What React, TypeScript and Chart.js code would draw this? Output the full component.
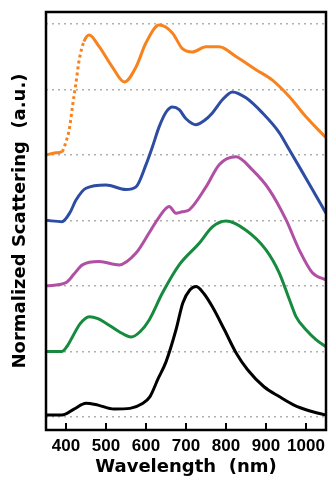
import React, { useEffect, useRef } from "react";
import { Chart, registerables } from "chart.js";

Chart.register(...registerables);

// Wavelength (nm) and stacked normalized scattering values (each curve offset by its baseline)
const blackX = [350, 390, 420, 450, 480, 520, 560, 590, 610, 630, 650, 675, 692, 710, 725, 745, 766, 796, 825, 854, 895, 933, 970, 1010, 1050];
const blackY = [0.03, 0.03, 0.12, 0.21, 0.18, 0.12, 0.13, 0.2, 0.31, 0.58, 0.84, 1.33, 1.74, 1.94, 1.99, 1.88, 1.68, 1.33, 0.98, 0.72, 0.46, 0.31, 0.18, 0.09, 0.03];

const greenX = [350, 390, 405, 416, 435, 458, 480, 500, 533, 563, 585, 608, 641, 683, 733, 766, 800, 850, 900, 933, 958, 975, 1000, 1025, 1050];
const greenY = [1.0, 1.0, 1.1, 1.22, 1.42, 1.53, 1.5, 1.43, 1.3, 1.22, 1.3, 1.48, 1.89, 2.32, 2.65, 2.9, 2.99, 2.85, 2.55, 2.2, 1.8, 1.53, 1.33, 1.18, 1.07];

const magentaX = [350, 400, 420, 441, 483, 533, 575, 608, 633, 658, 675, 690, 708, 750, 783, 825, 866, 908, 950, 983, 1016, 1050];
const magentaY = [2.0, 2.05, 2.18, 2.32, 2.37, 2.32, 2.5, 2.81, 3.05, 3.21, 3.11, 3.13, 3.16, 3.51, 3.85, 3.97, 3.77, 3.47, 3.01, 2.55, 2.2, 2.09];

const blueX = [350, 390, 410, 425, 450, 500, 550, 575, 600, 616, 633, 650, 666, 683, 700, 725, 745, 766, 791, 816, 850, 891, 933, 958, 983, 1016, 1050];
const blueY = [3.0, 2.98, 3.12, 3.31, 3.49, 3.54, 3.47, 3.51, 3.85, 4.12, 4.43, 4.65, 4.73, 4.69, 4.55, 4.46, 4.52, 4.64, 4.84, 4.96, 4.87, 4.64, 4.34, 4.08, 3.82, 3.47, 3.11];

const orangeX = [350, 375, 390, 400, 408, 416, 425, 433, 445, 458, 483, 516, 546, 575, 600, 633, 666, 691, 716, 750, 783, 825, 875, 916, 958, 1000, 1050];
const orangeY = [4.0, 4.03, 4.05, 4.2, 4.38, 4.73, 5.1, 5.45, 5.73, 5.83, 5.65, 5.34, 5.11, 5.34, 5.71, 5.98, 5.86, 5.62, 5.57, 5.65, 5.65, 5.5, 5.3, 5.14, 4.89, 4.58, 4.26];

const xTickValues = [400, 500, 600, 700, 800, 900, 1000];
const yGridValues = [0, 1, 2, 3, 4, 5, 6];

const pts = (xs: number[], ys: number[]) => xs.map((x, i) => ({ x, y: ys[i] }));

const framePlugin = {
  id: "frame",
  afterDraw(chart: any) {
    const { ctx, chartArea, scales } = chart;
    ctx.save();
    ctx.strokeStyle = "#000";
    ctx.lineWidth = 2;
    for (const v of xTickValues) {
      const x = scales.x.getPixelForValue(v);
      ctx.beginPath();
      ctx.moveTo(x, chartArea.bottom);
      ctx.lineTo(x, chartArea.bottom - 7);
      ctx.stroke();
    }
    ctx.lineWidth = 2.5;
    ctx.strokeRect(chartArea.left, chartArea.top, chartArea.right - chartArea.left, chartArea.bottom - chartArea.top);
    ctx.restore();
  },
};

export default function App() {
  const ref = useRef<HTMLCanvasElement | null>(null);
  useEffect(() => {
    if (!ref.current) return;
    const mk = (xs: number[], ys: number[], color: string, extra: any = {}) => ({
      data: pts(xs, ys),
      borderColor: color,
      backgroundColor: color,
      borderWidth: 3,
      pointRadius: 0,
      cubicInterpolationMode: "monotone",
      fill: false,
      ...extra,
    });
    const chart = new Chart(ref.current, {
      type: "line",
      data: {
        datasets: [
          mk(blackX, blackY, "#000000"),
          mk(greenX, greenY, "#168A3E"),
          mk(magentaX, magentaY, "#B04FA3"),
          mk(blueX, blueY, "#2D4DA3"),
          mk(orangeX, orangeY, "#F7821E", {
            segment: {
              borderDash: (c: any) =>
                c.p0.parsed.x >= 390 && c.p1.parsed.x <= 445 ? [3, 3] : undefined,
            },
          }),
        ],
      },
      options: {
        animation: false,
        responsive: false,
        maintainAspectRatio: false,
        layout: { padding: { left: 0, top: 12, right: 5, bottom: 0 } },
        plugins: { legend: { display: false }, tooltip: { enabled: false } },
        scales: {
          x: {
            type: "linear",
            min: 350,
            max: 1050,
            grid: { display: false },
            border: { display: false },
            afterBuildTicks: (scale: any) => {
              scale.ticks = xTickValues.map((v) => ({ value: v }));
            },
            afterFit: (scale: any) => {
              scale.height = 49;
            },
            ticks: {
              autoSkip: false,
              maxRotation: 0,
              padding: -2,
              color: "#000",
              callback: (v: any) => String(v),
              font: { family: "'Liberation Sans', Arial, sans-serif", size: 17, weight: "bold" },
            },
            title: {
              display: true,
              text: "Wavelength  (nm)",
              color: "#000",
              padding: { top: 0, bottom: 3 },
              font: { family: "'DejaVu Sans', sans-serif", size: 18, weight: "bold", lineHeight: 1 },
            },
          },
          y: {
            type: "linear",
            min: -0.2,
            max: 6.18,
            afterBuildTicks: (scale: any) => {
              scale.ticks = yGridValues.map((v) => ({ value: v }));
            },
            afterFit: (scale: any) => {
              scale.width = 46;
            },
            ticks: { display: false },
            border: { display: false, dash: [2, 4] },
            grid: {
              drawTicks: false,
              color: "#b0b0b0",
              lineWidth: 1.5,
            },
            title: {
              display: true,
              text: "Normalized Scattering  (a.u.)",
              color: "#000",
              padding: { top: 11, bottom: 0 },
              font: { family: "'DejaVu Sans', sans-serif", size: 18, weight: "bold", lineHeight: 1 },
            },
          },
        },
      },
      plugins: [framePlugin],
    } as any);
    return () => chart.destroy();
  }, []);
  return (
    <div style={{ position: "fixed", left: 0, top: 0, width: 331, height: 479, background: "#fff" }}>
      <canvas ref={ref} width={331} height={479} style={{ width: 331, height: 479, display: "block" }} />
    </div>
  );
}
